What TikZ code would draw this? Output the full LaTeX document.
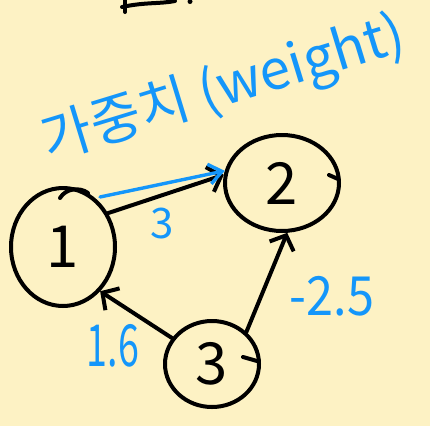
\documentclass[tikz,border=0pt]{standalone}
\usepackage{fontspec}
\setmainfont{Noto Sans CJK KR}
\usetikzlibrary{shapes.geometric,arrows.meta}
\definecolor{bgpaper}{RGB}{253,242,196}
\definecolor{penblue}{RGB}{20,150,250}
\tikzset{
  pen/.style={line width=4pt, line cap=round, line join=round, black},
  bluepen/.style={line width=3.4pt, line cap=round, line join=round, penblue},
  circ/.style={ellipse, draw, pen, inner sep=0pt, font=\fontsize{58}{58}\selectfont},
  barb/.style={-{Straight Barb[length=12pt,width=26pt,line width=4pt]}},
  bluebarb/.style={-{Straight Barb[length=13pt,width=20pt,line width=3.4pt]}},
  wlabel/.style={text=penblue, inner sep=0pt},
}
\begin{document}
\begin{tikzpicture}[x=1pt,y=-1pt]
\fill[bgpaper] (0,0) rectangle (430,426);
\useasboundingbox (0,0) rectangle (430,426);

% leftover strokes at the top edge
\draw[pen] (125,0) -- (125,12);
\draw[pen] (122,7) .. controls (145,2) and (160,4) .. (175,1);
\fill (190,1.5) circle (2.5pt);

% nodes
\node[circ, minimum width=104pt, minimum height=118pt] (n1) at (63,247) {1};
\node[circ, minimum width=114pt, minimum height=96pt] (n2) at (282,183) {2};
\node[circ, minimum width=94pt, minimum height=86pt] (n3) at (212,364) {3};

% handwriting ticks on the circles
\draw[pen] (60,198) .. controls (66,188) and (80,187) .. (88,193);
\draw[pen] (329,175) -- (338,179);
\draw[pen] (243,357) -- (257,361);

% edges
\draw[pen, barb] (n1.37) -- (n2.172);
\draw[pen, barb] (n3.147) -- (n1.310);
\draw[pen, barb] (n3.43) -- (n2.276);

% blue annotation
\coordinate (ann) at (100,197);
\draw[bluepen, bluebarb] (ann) -- (n2.168);
\node[wlabel, rotate=17, font=\fontsize{55}{55}\selectfont] (w) at (224,90) {가중치 (weight)};

% weights
\node[wlabel, font=\fontsize{42}{42}\selectfont] (l12) at (162,224) {3};
\node[wlabel, xscale=0.65, font=\fontsize{58}{58}\selectfont] (l31) at (113,346) {1.6};
\node[wlabel, xscale=0.9, font=\fontsize{54}{54}\selectfont] (l32) at (332,296) {-2.5};
\end{tikzpicture}
\end{document}
